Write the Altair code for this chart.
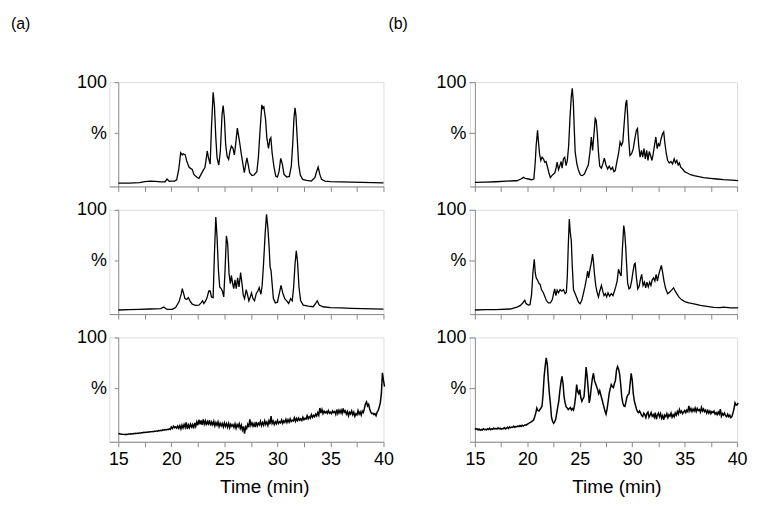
import altair as alt
import pandas as pd
import numpy as np

FONT = "Liberation Sans"

# ---------------- (a) top trace: time (min), relative intensity (%)
A1_T = [15.0, 16.0, 17.0, 17.5, 18.0, 18.5, 19.0, 19.4, 19.6, 19.8, 20.0, 20.3, 20.5, 20.7, 20.88, 21.03, 21.12,
        21.31, 21.44, 21.66, 21.81, 21.97, 22.12, 22.38, 22.6, 22.8, 23.0, 23.16, 23.28, 23.38, 23.5, 23.66, 23.78,
        23.94, 24.06, 24.19, 24.31, 24.47, 24.62, 24.78, 24.88, 25.0, 25.12, 25.25, 25.4, 25.53, 25.66, 25.81, 25.94,
        26.06, 26.22, 26.34, 26.44, 26.6, 26.75, 26.88, 27.0, 27.12, 27.25, 27.38, 27.6, 27.8, 28.06, 28.2, 28.38,
        28.53, 28.62, 28.72, 28.88, 29.0, 29.16, 29.28, 29.38, 29.5, 29.66, 29.84, 30.0, 30.16, 30.31, 30.47, 30.62,
        30.88, 31.12, 31.31, 31.44, 31.56, 31.66, 31.75, 31.88, 32.0, 32.16, 32.38, 32.75, 33.2, 33.53, 33.69, 33.84,
        34.0, 34.16, 34.47, 35.0, 36.0, 37.0, 38.0, 39.0, 40.0]
A1_V = [1.2, 1.3, 1.8, 2.8, 3.2, 3.0, 2.4, 2.6, 5.2, 3.0, 3.3, 3.2, 4.5, 15, 31, 28.8, 30,
        28.8, 23, 17, 15.7, 14.7, 9.8, 7.2, 5.9, 9.8, 13.7, 16.3, 24.5, 32.7, 26, 20, 55.5,
        90, 77, 45.8, 26, 19, 32.7, 68.6, 77, 65, 39, 27.8, 24.5, 32.7, 37.6, 35.3, 28.8,
        39, 55, 47.4, 40.8, 29.4, 19.6, 11.4, 19, 26, 19, 11.4, 8.8, 9.2, 12.4, 26, 55.5,
        77.8, 74.5, 75.8, 63.7, 45.8, 35.3, 44, 45.8, 31, 18, 8.2, 7.2, 13, 25.5, 19.6, 9.8,
        7.2, 7.8, 18, 39, 65, 75, 67, 42.5, 19.6, 9.2, 4.9, 3.9, 3.3, 6.5, 12.4, 17,
        9.8, 4.9, 3.3, 2.8, 2.5, 2.2, 2.0, 1.8, 1.6]

# ---------------- (a) middle trace
A2_T = [15.0, 16.0, 17.0, 18.0, 18.5, 19.0, 19.3, 19.45, 19.6, 20.1, 20.4, 20.72, 20.94, 21.03, 21.16, 21.28, 21.44,
        21.6, 21.75, 21.97, 22.28, 22.6, 22.8, 22.94, 23.06, 23.22, 23.38, 23.53, 23.66, 23.78, 23.94, 24.06, 24.19,
        24.31, 24.44, 24.56, 24.69, 24.81, 24.94, 25.06, 25.19, 25.31, 25.44, 25.56, 25.66, 25.78, 25.88, 26.0, 26.12,
        26.25, 26.38, 26.53, 26.66, 26.78, 26.9, 27.06, 27.19, 27.31, 27.44, 27.56, 27.69, 27.84, 28.0, 28.16, 28.28,
        28.44, 28.56, 28.69, 28.84, 28.97, 29.1, 29.22, 29.31, 29.4, 29.5, 29.62, 29.8, 30.0, 30.19, 30.34, 30.5,
        30.69, 30.88, 31.06, 31.25, 31.4, 31.53, 31.66, 31.78, 31.9, 32.03, 32.19, 32.44, 32.9, 33.38, 33.6, 33.75,
        33.94, 34.3, 35.0, 36.0, 37.0, 38.0, 39.0, 40.0]
A2_V = [2.0, 2.3, 2.6, 3.0, 3.2, 3.3, 5.0, 3.5, 2.6, 2.6, 4.5, 10, 18, 23, 18, 13.2, 12.3,
        14.2, 11, 7.7, 6.5, 6.8, 9, 11, 8.4, 10.6, 14.8, 20.6, 20.6, 14.8, 14.2, 56.8, 93,
        73, 40.6, 24.5, 23, 20.6, 14.8, 40.6, 74.5, 66.5, 37.4, 27.7, 35.8, 27.7, 23, 31.6, 23,
        33.5, 24.5, 38.7, 27.7, 16.5, 13.2, 22, 16.5, 11, 14.8, 18.7, 13.2, 11, 18, 20.6, 23.9,
        17.4, 26, 47, 76, 95.5, 82.6, 63, 44, 40.6, 27.7, 13.2, 9, 9.7, 18.7, 26, 18.7,
        13.2, 11, 8.4, 13.2, 11, 24.5, 47, 60, 48.7, 24.5, 11, 6.8, 5.8, 5.2, 8.4, 11,
        6.8, 5.2, 4.4, 4.0, 3.7, 3.4, 3.1, 2.9]

# ---------------- (a) bottom trace, one value every 0.1 min from 15.0
A3_V = [6.0, 5.8, 5.5, 5.3, 5.4, 5.2, 5.0, 5.3, 5.1, 5.4,
        5.6, 5.5, 5.8, 5.7, 6.0, 5.9, 6.2, 6.0, 6.4, 6.3,
        6.6, 6.5, 6.9, 6.8, 7.2, 7.0, 7.4, 7.3, 7.6, 7.5,
        7.8, 7.7, 8.1, 7.9, 8.3, 8.2, 8.6, 8.4, 8.9, 8.7,
        9.2, 8.9, 9.6, 9.3, 9.9, 9.5, 10.2, 9.8, 10.6, 10.1,
        12.5, 11.0, 13.2, 11.8, 12.6, 11.4, 13.5, 11.2, 13.8, 10.6,
        14.2, 11.5, 15.0, 12.0, 17.0, 10.5, 14.5, 11.8, 15.2, 12.4,
        14.8, 11.0, 16.5, 13.0, 17.5, 14.2, 19.5, 15.0, 18.8, 14.5,
        19.8, 15.2, 18.5, 14.0, 17.8, 15.5, 19.0, 13.8, 17.2, 14.6,
        18.0, 13.5, 16.8, 14.2, 17.5, 12.8, 16.2, 13.6, 15.8, 12.5,
        16.5, 13.0, 15.8, 12.2, 16.0, 11.8, 15.2, 13.2, 14.8, 12.0,
        15.5, 11.2, 14.8, 12.6, 15.6, 11.0, 14.2, 9.5, 13.0, 6.0,
        12.5, 10.8, 15.0, 12.2, 19.8, 14.0, 16.5, 13.2, 15.8, 12.4,
        17.5, 13.5, 16.2, 14.5, 18.0, 13.8, 16.8, 14.2, 18.5, 15.0,
        17.2, 14.0, 18.5, 15.2, 23.0, 16.0, 18.2, 14.8, 17.5, 15.5,
        18.8, 15.8, 17.6, 16.5, 19.2, 16.0, 18.5, 17.0, 20.0, 16.8,
        19.5, 17.2, 20.5, 17.8, 19.0, 18.2, 21.5, 18.0, 20.8, 18.6,
        21.2, 19.0, 20.5, 18.8, 22.0, 19.5, 21.0, 20.2, 23.5, 20.5,
        22.5, 21.0, 24.5, 21.8, 23.8, 22.5, 25.0, 23.2, 26.5, 24.0,
        31.0, 26.0, 29.5, 25.5, 28.0, 26.2, 27.5, 25.8, 28.5, 26.0,
        27.0, 25.5, 28.2, 26.5, 27.5, 24.8, 29.5, 25.6, 28.8, 26.2,
        29.0, 25.8, 30.5, 26.8, 28.2, 25.0, 27.5, 23.5, 26.8, 25.2,
        28.2, 24.5, 27.0, 22.8, 25.5, 24.2, 28.5, 25.0, 27.2, 24.0,
        28.0, 26.5, 30.5, 35.0, 37.0, 33.0, 34.5, 30.0, 27.0, 25.5,
        26.0, 24.5, 25.5, 23.5, 27.0, 28.5, 32.0, 36.0, 45.0, 65.5,
        58.0, 52.0]

# ---------------- (b) top trace
B1_T = [15.0, 16.0, 17.0, 18.0, 18.8, 19.0, 19.38, 19.62, 19.8, 20.1, 20.4, 20.62, 20.75, 20.84, 20.97, 21.06,
        21.16, 21.28, 21.4, 21.53, 21.66, 21.78, 21.9, 22.06, 22.19, 22.34, 22.5, 22.62, 22.75, 22.84, 22.97, 23.1,
        23.22, 23.31, 23.44, 23.56, 23.69, 23.81, 23.94, 24.06, 24.19, 24.28, 24.38, 24.47, 24.56, 24.72, 24.88,
        25.06, 25.25, 25.44, 25.62, 25.81, 25.97, 26.1, 26.22, 26.34, 26.47, 26.56, 26.66, 26.78, 26.9, 27.06, 27.22,
        27.34, 27.5, 27.66, 27.8, 27.97, 28.12, 28.25, 28.38, 28.53, 28.69, 28.84, 28.97, 29.1, 29.22, 29.38, 29.47,
        29.56, 29.66, 29.78, 29.94, 30.1, 30.25, 30.4, 30.5, 30.62, 30.75, 30.88, 31.0, 31.12, 31.25, 31.38, 31.5,
        31.62, 31.75, 31.88, 32.0, 32.12, 32.25, 32.38, 32.5, 32.62, 32.75, 32.9, 33.0, 33.12, 33.25, 33.38, 33.53,
        33.69, 33.84, 34.0, 34.12, 34.25, 34.38, 34.5, 34.62, 34.8, 35.0, 35.25, 35.56, 35.88, 36.34, 36.8, 37.44,
        38.06, 38.7, 39.5, 40.1]
B1_V = [2.0, 2.2, 2.6, 3.2, 3.6, 3.6, 5.3, 6.9, 5.9, 5.3, 4.6, 5.3, 21.7, 38, 53, 41.4,
        30, 23.4, 26.6, 25, 21.7, 22.4, 17.8, 11.2, 6.9, 8.6, 10.2, 11.2, 16.8, 21.7, 14.5, 18.4,
        22.4, 15.8, 25, 26.6, 18.4, 23.4, 38, 64.5, 86, 94, 81, 54.6, 31.6, 20, 13.5,
        9.2, 8.6, 10.2, 14.5, 19, 31.6, 46.4, 33.2, 48, 64.5, 62.8, 51.3, 31.6, 17.8, 15.8, 21,
        25.7, 19, 15.1, 17.8, 14.5, 16.8, 12.5, 13.5, 21.7, 30, 41.4, 38, 41.4, 58, 79, 82.6,
        67.8, 44.7, 28.3, 30, 35, 44.7, 53, 54.6, 38, 26.6, 33.2, 26.6, 35, 25, 33.2, 23.4,
        32.2, 28.3, 23.4, 30, 38, 46.4, 35, 39.8, 38, 44.7, 49.7, 51.3, 39.8, 30, 23.4, 21,
        22.4, 20, 25, 21, 23.4, 19, 21, 16.8, 15.1, 12.5, 11.2, 9.5, 8.6, 7.6, 6.6, 5.9,
        5.3, 4.6, 4.2, 3.8]

# ---------------- (b) middle trace
B2_T = [15.0, 16.0, 17.0, 18.38, 19.0, 19.31, 19.56, 19.75, 19.88, 20.1, 20.25, 20.4, 20.53, 20.66, 20.75, 20.84,
        20.97, 21.1, 21.22, 21.34, 21.5, 21.66, 21.8, 22.0, 22.19, 22.38, 22.5, 22.6, 22.72, 22.84, 22.97, 23.12,
        23.28, 23.44, 23.6, 23.72, 23.81, 23.9, 24.0, 24.09, 24.19, 24.28, 24.4, 24.56, 24.72, 24.88, 25.03, 25.19,
        25.34, 25.5, 25.62, 25.75, 25.84, 25.97, 26.1, 26.22, 26.31, 26.4, 26.53, 26.66, 26.78, 26.9, 27.06, 27.19,
        27.31, 27.44, 27.56, 27.69, 27.84, 28.0, 28.16, 28.3, 28.44, 28.56, 28.69, 28.8, 28.94, 29.06, 29.19, 29.28,
        29.38, 29.47, 29.56, 29.69, 29.8, 29.94, 30.06, 30.19, 30.28, 30.4, 30.53, 30.66, 30.78, 30.9, 31.03, 31.16,
        31.28, 31.4, 31.53, 31.66, 31.78, 31.9, 32.03, 32.16, 32.28, 32.4, 32.53, 32.66, 32.78, 32.9, 33.03, 33.19,
        33.38, 33.56, 33.75, 33.94, 34.1, 34.25, 34.44, 34.69, 35.0, 35.4, 35.88, 36.5, 37.12, 37.75, 38.38, 38.7,
        39.4, 40.1]
B2_V = [2.0, 2.3, 2.4, 3.0, 4.9, 6.3, 8.9, 11.5, 8.2, 6.9, 7.2, 17, 38.5, 51.6, 38.5, 33.5,
        31.3, 28, 27, 22, 19.4, 15.5, 11.5, 8.9, 8.9, 12.2, 18, 22.7, 16.1, 21.4, 18.8, 22,
        20.4, 22, 18, 19.4, 35.2, 64.8, 91, 78, 69.7, 45, 22, 18, 13.8, 9.5, 8.2, 11.5,
        18, 25.3, 32, 40, 33.5, 41.8, 48.4, 56.6, 48.4, 36.8, 25.3, 18.8, 14.8, 20.4, 26, 20.4,
        16.1, 18, 14.8, 18.8, 15.5, 18, 16.1, 20.4, 25.3, 30.3, 41.8, 38.5, 35.2, 61.5, 84.5, 78,
        63, 45, 28.6, 22.7, 23.7, 30.3, 38.5, 46.7, 47.7, 33.5, 22.7, 25.3, 32, 36.8, 26, 29.3,
        23.7, 29.3, 24.7, 29.3, 26, 31.3, 33.5, 30.3, 36.8, 30.3, 36.8, 41.8, 45.7, 38.5, 30.3, 22.7,
        18, 19.4, 21.4, 23.7, 20.4, 18, 14.8, 12.2, 10.2, 8.9, 7.9, 6.6, 5.6, 4.6, 4.3, 4.9,
        4.0, 4.0]

# ---------------- (b) bottom trace, one value every 0.1 min from 15.0
B3_V = [11.0, 10.2, 10.8, 9.6, 10.4, 9.2, 10.0, 9.4, 10.6, 9.8,
        10.2, 9.6, 10.8, 10.0, 11.2, 9.8, 10.6, 10.2, 11.4, 10.4,
        11.0, 10.4, 11.6, 10.6, 11.2, 10.2, 11.0, 10.8, 11.8, 10.6,
        11.4, 12.2, 11.0, 12.6, 11.6, 12.4, 12.0, 13.2, 12.2, 12.8,
        12.6, 13.4, 12.8, 13.8, 13.0, 14.2, 13.4, 14.0, 14.6, 14.2,
        15.2, 15.8, 16.4, 17.0, 17.6, 18.4, 19.5, 22.5, 26.0, 31.0,
        28.5, 28.0, 29.5, 31.0, 33.0, 45.0, 62.0, 72.0, 80.0, 74.0,
        58.0, 45.0, 35.0, 22.0, 18.0, 16.0, 17.5, 20.0, 26.0, 32.0,
        38.0, 48.0, 56.0, 62.0, 55.0, 42.0, 36.0, 32.0, 31.0, 29.5,
        30.5, 31.5, 29.0, 30.5, 29.0, 34.0, 42.0, 54.0, 47.0, 45.0,
        49.0, 41.0, 37.5, 40.0, 42.0, 55.0, 71.0, 62.0, 50.0, 36.0,
        42.0, 52.0, 60.0, 65.0, 58.0, 55.0, 52.0, 49.0, 45.0, 48.0,
        44.0, 40.0, 36.0, 32.0, 28.0, 25.0, 30.0, 37.0, 45.0, 50.0,
        54.0, 52.0, 51.0, 55.0, 58.0, 68.0, 71.5, 69.0, 64.0, 54.0,
        42.0, 36.0, 33.0, 32.5, 37.0, 42.0, 44.0, 45.0, 55.0, 65.0,
        58.0, 45.0, 38.0, 34.0, 30.0, 27.5, 26.5, 28.0, 26.0, 23.5,
        22.5, 26.0, 24.5, 21.5, 25.5, 27.0, 22.0, 24.0, 26.5, 23.0,
        24.5, 22.0, 26.5, 20.0, 24.0, 26.0, 22.5, 25.5, 21.0, 23.5,
        19.5, 24.0, 22.5, 25.5, 21.5, 24.5, 23.0, 26.0, 22.0, 24.5,
        22.5, 26.0, 24.0, 27.5, 25.0, 29.5, 26.5, 28.0, 25.5, 27.0,
        28.5, 26.5, 29.0, 27.5, 33.0, 28.0, 30.5, 27.5, 30.0, 28.0,
        31.0, 27.5, 30.5, 28.5, 29.5, 27.0, 31.5, 28.0, 30.0, 27.5,
        29.0, 26.0, 28.5, 26.0, 28.0, 25.5, 27.5, 26.5, 28.0, 25.0,
        26.5, 24.5, 27.0, 25.0, 30.0, 23.0, 25.5, 24.0, 26.0, 23.5,
        22.5, 25.0, 22.5, 24.0, 21.5, 22.5, 26.0, 30.0, 36.0, 34.0,
        34.0, 36.0]

X_TICKS = [15, 17.5, 20, 22.5, 25, 27.5, 30, 32.5, 35, 37.5, 40]
Y_TICKS = [50, 100]
PANEL_LABELS = {"a": "(a)", "b": "(b)"}


def grid_times(values):
    return [round(15.0 + 0.1 * i, 2) for i in range(len(values))]


COLS = {
    "a": dict(dom=[14.15, 40], w=276, off=-9, tick=4, lpad=8, tdx=18, lx=-99),
    "b": dict(dom=[14.52, 40], w=269, off=-5, tick=6, lpad=3, tdx=13, lx=-82),
}


def panel(times, values, col, pos):
    c = COLS[col]
    df = pd.DataFrame({"t": times, "v": values})
    if pos == "bottom":
        xaxis = alt.Axis(values=X_TICKS, labelExpr="datum.value % 5 == 0 ? datum.label : ''",
                         title="Time (min)", tickSize=5, labelPadding=4, labelFontSize=18,
                         titleFontSize=19, titleFontWeight="normal", titlePadding=9,
                         titleX=c["w"] / 2 + c["tdx"], grid=False, labelFlush=False)
    else:
        xaxis = alt.Axis(values=X_TICKS, labels=False, title=None, tickSize=5, grid=False)
    yaxis = alt.Axis(values=Y_TICKS, labelExpr="datum.value == 100 ? '100' : '%'", title=None,
                     offset=c["off"], tickSize=c["tick"], labelPadding=c["lpad"], labelFontSize=18,
                     grid=False)
    sw = 1.5 if pos == "bottom" else 1.3
    line = alt.Chart(df).mark_line(color="black", strokeWidth=sw, clip=False).encode(
        x=alt.X("t:Q", scale=alt.Scale(domain=c["dom"], nice=False, zero=False), axis=xaxis),
        y=alt.Y("v:Q", scale=alt.Scale(domain=[-2, 100], nice=False), axis=yaxis),
        order="t:Q",
    )
    if pos == "top":
        lab = alt.Chart(pd.DataFrame({"s": [PANEL_LABELS[col]]})).mark_text(
            align="left", baseline="alphabetic", fontSize=16, font=FONT, color="black"
        ).encode(text="s:N", x=alt.value(c["lx"]), y=alt.value(-54))
        return alt.layer(line, lab).properties(width=c["w"], height=105)
    return line.properties(width=c["w"], height=105)


chart = alt.concat(
    panel(A1_T, A1_V, "a", "top"),
    panel(B1_T, B1_V, "b", "top"),
    panel(A2_T, A2_V, "a", "mid"),
    panel(B2_T, B2_V, "b", "mid"),
    panel(grid_times(A3_V), A3_V, "a", "bottom"),
    panel(grid_times(B3_V), B3_V, "b", "bottom"),
    columns=2, spacing={"row": 23.5, "column": 87}, bounds="flush", align="each",
).properties(
    padding={"left": 2, "top": 5, "right": 5, "bottom": 5}
).configure_view(stroke=None).configure_axis(
    labelFont=FONT, titleFont=FONT, labelColor="black", titleColor="black",
    domainColor="black", tickColor="black", domainWidth=1, tickWidth=1,
).configure(background="white")

chart.save("out.html", embed_options={"renderer": "svg", "actions": False})
